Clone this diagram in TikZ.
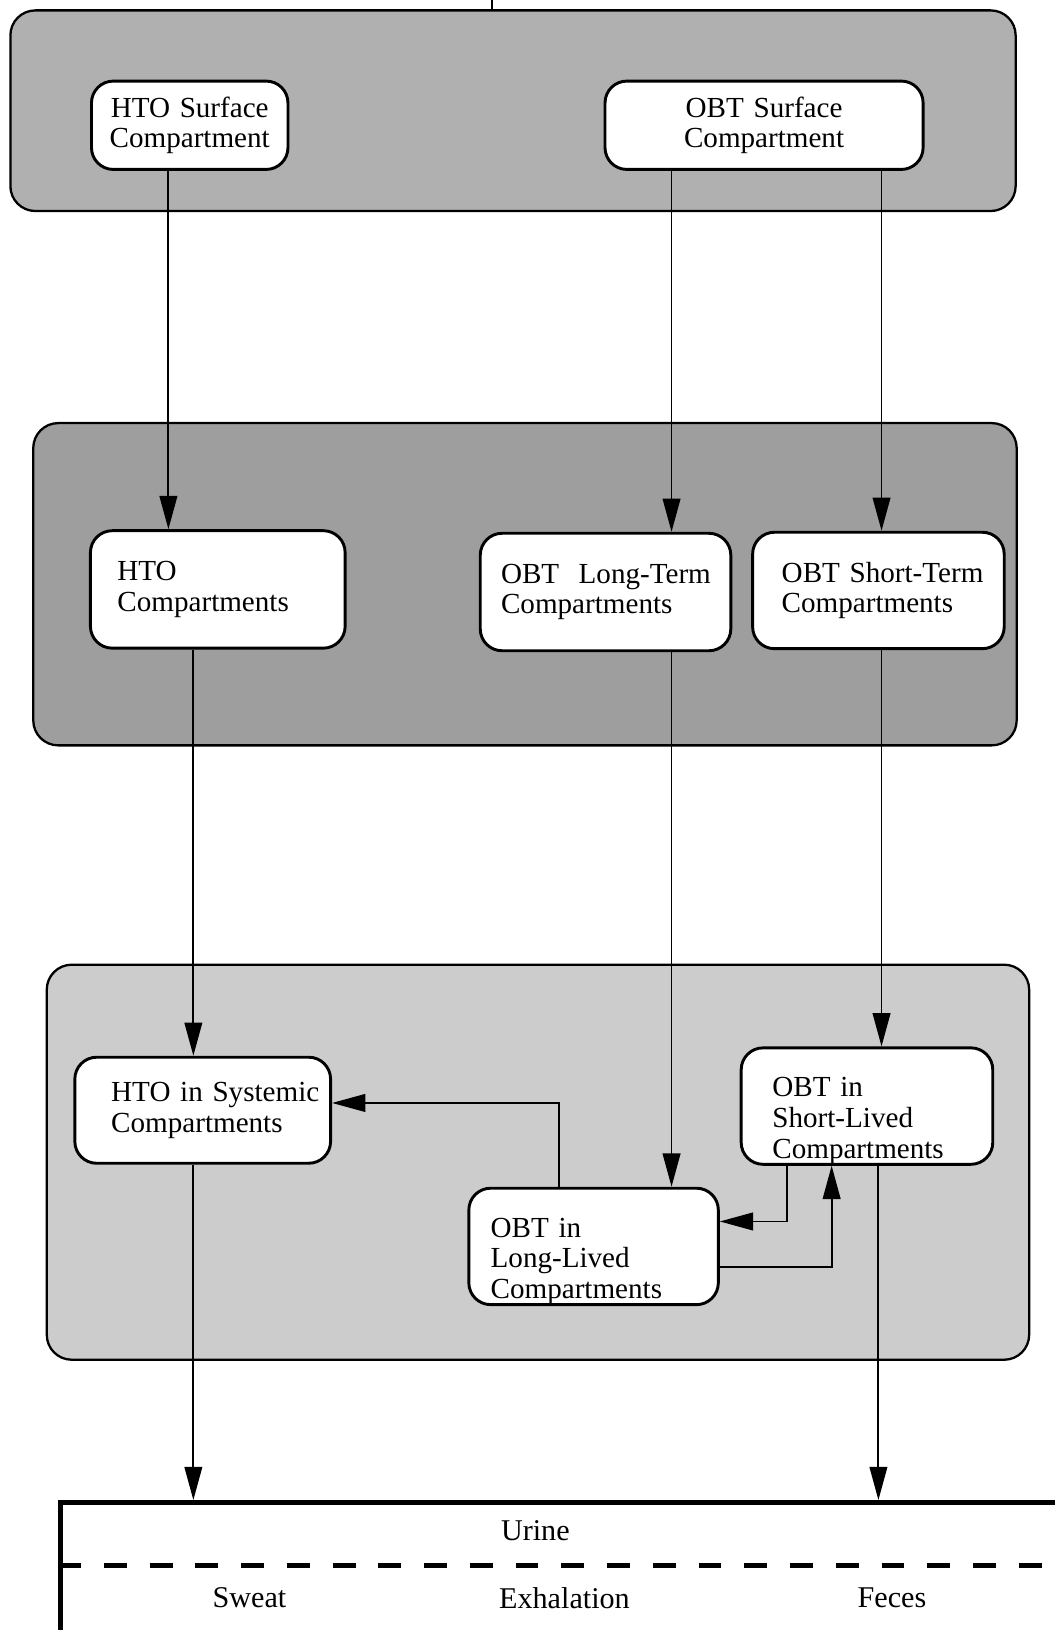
\documentclass[tikz,border=0pt]{standalone}
\usepackage{fontspec}
\setmainfont{Liberation Serif}
\usetikzlibrary{arrows.meta}

\begin{document}
\begin{tikzpicture}[x=1pt,y=-1pt,->,>={Triangle[length=32pt,width=17pt]},
  line width=1.8pt,
  panel/.style={draw,-,rounded corners=24pt,line width=2.2pt},
  comp/.style={draw,-,fill=white,rounded corners=21pt,line width=2.8pt,
    inner xsep=0pt,align=left,font=\fontsize{28}{29.5}\selectfont},
  indent/.style={execute at begin node={\leftskip=#1pt}},
  sinktext/.style={font=\fontsize{29}{30}\selectfont}]

  \fill[white] (0,0) rectangle (1014,1568);
  \useasboundingbox (0,0) rectangle (1014,1568);

  % the three shaded groups
  \node[panel,fill=black!31,minimum width=967pt,minimum height=193pt] (surf) at (493.5,106.5) {};
  \node[panel,fill=black!38,minimum width=946pt,minimum height=310pt] (tissue) at (505,562) {};
  \node[panel,fill=black!20,minimum width=945pt,minimum height=380pt] (organ) at (517.5,1118) {};

  % compartments
  \node[comp,align=center,text width=189pt,minimum height=85pt] (htosurf) at (182.5,120.5)
    {HTO Surface\\Compartment};
  \node[comp,align=center,text width=306pt,minimum height=85pt] (obtsurf) at (735,120.5)
    {OBT Surface\\Compartment};

  \node[comp,indent=26,text width=245pt,minimum height=113pt] (htocomp) at (209.5,567)
    {HTO\\Compartments};
  \node[comp,indent=20,text width=241pt,minimum height=113pt] (obtlong) at (582.5,569.5)
    {OBT~ Long-Term\\Compartments};
  \node[comp,indent=28,text width=242pt,minimum height=112pt] (obtshort) at (845,568)
    {OBT Short-Term\\Compartments};

  \node[comp,indent=35,text width=246pt,minimum height=102pt] (htosys) at (195,1068)
    {HTO in Systemic\\Compartments};
  \node[comp,indent=30,text width=242pt,minimum height=112pt,inner ysep=0pt,text height=47pt]
    (obtsl) at (834,1064) {OBT in\\Short-Lived\\Compartments};
  \node[comp,indent=21,text width=240pt,minimum height=112pt,inner ysep=0pt,text height=47pt]
    (obtll) at (571,1199) {OBT in\\Long-Lived\\Compartments};

  % excretion box, runs off the page at right and bottom
  \node[draw,-,line width=4.8pt,minimum width=1000pt,minimum height=200pt,anchor=north west]
    (excr) at (56,1443) {};
  \coordinate (split) at (0,1506);
  \draw[-,line width=4.8pt,dash pattern=on 22pt off 22pt] (excr.west |- split) -- (excr.east |- split);
  \node[sinktext] (urine) at (515,1472) {Urine};
  \node[sinktext] (sweat) at (240,1537) {Sweat};
  \node[sinktext] (exhal) at (543,1537) {Exhalation};
  \node[sinktext] (feces) at (858,1537) {Feces};

  % lanes for the vertical flows
  \coordinate (in) at (473,0);
  \coordinate (xa) at (162,0);
  \coordinate (xb) at (646,0);
  \coordinate (xc) at (848,0);
  \coordinate (xd) at (186,0);
  \coordinate (xe) at (845,0);
  \coordinate (xr) at (538,0);
  \coordinate (xs) at (757,0);
  \coordinate (xt) at (800,0);

  \draw[-] (in) -- (in |- surf.north);

  \draw (htosurf.south -| xa) -- (htocomp.north -| xa);
  \draw (obtsurf.south -| xb) -- (obtlong.north -| xb);
  \draw (obtsurf.south -| xc) -- (obtshort.north -| xc);

  \draw (htocomp.south -| xd) -- (htosys.north -| xd);
  \draw (obtlong.south -| xb) -- (obtll.north -| xb);
  \draw (obtshort.south -| xc) -- (obtsl.north -| xc);

  % exchange between systemic, long- and short-lived pools
  \draw (obtll.north -| xr) |- ([yshift=7pt]htosys.east);
  \draw (obtsl.south -| xs) |- ([yshift=24pt]obtll.east);
  \draw ([yshift=-20pt]obtll.east) -| (obtsl.south -| xt);

  \draw (htosys.south -| xd) -- (excr.north -| xd);
  \draw (obtsl.south -| xe) -- (excr.north -| xe);
\end{tikzpicture}
\end{document}
